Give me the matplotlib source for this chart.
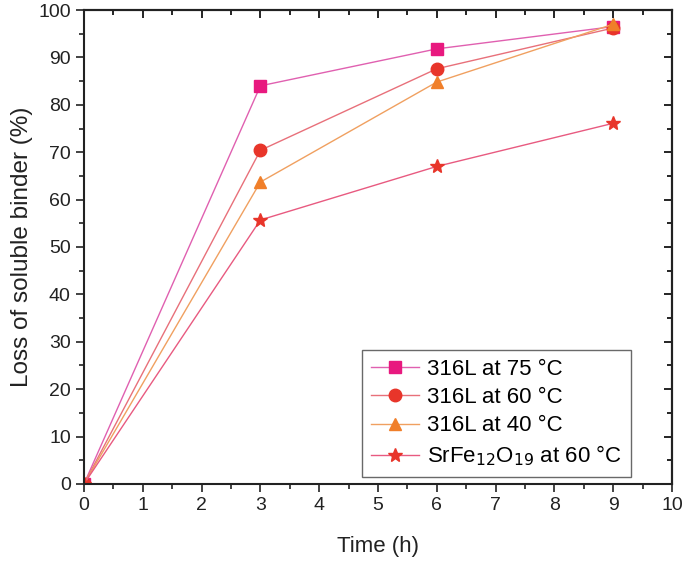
import matplotlib.pyplot as plt
from matplotlib.ticker import MultipleLocator

plt.rcParams["font.family"] = ["Liberation Sans", "DejaVu Sans"]

# Дані
time_h = [0, 3, 6, 9]
loss_316l_75 = [0, 84.0, 91.8, 96.5]
loss_316l_60 = [0, 70.4, 87.6, 96.2]
loss_316l_40 = [0, 63.7, 84.8, 97.0]
loss_srfe_60 = [0, 55.7, 67.0, 76.1]

series = [
    (loss_316l_75, "316L at 75 °C", "s", "#e8197f", "#e060b0", 8),
    (loss_316l_60, "316L at 60 °C", "o", "#e8352a", "#e8707a", 9),
    (loss_316l_40, "316L at 40 °C", "^", "#f07f2a", "#f0a060", 9),
    (loss_srfe_60, "SrFe$_{12}$O$_{19}$ at 60 °C", "*", "#e8352a", "#e85a80", 10),
]

fig = plt.figure(figsize=(6.85, 5.62), dpi=100)
ax = fig.add_axes([0.1226, 0.1388, 0.8584, 0.8434])

for y, label, marker, mcolor, lcolor, ms in series:
    ax.plot(time_h, y, color=lcolor, linewidth=1, marker=marker,
            markersize=ms, markerfacecolor=mcolor, markeredgecolor=mcolor,
            label=label)

ax.set_xlim(0, 10)
ax.set_ylim(0, 100)
ax.xaxis.set_major_locator(MultipleLocator(1))
ax.xaxis.set_minor_locator(MultipleLocator(0.5))
ax.yaxis.set_major_locator(MultipleLocator(10))
ax.yaxis.set_minor_locator(MultipleLocator(5))

for side in ["left", "bottom", "top", "right"]:
    ax.spines[side].set_linewidth(1.5)
    ax.spines[side].set_color("#222222")

ax.tick_params(which="both", direction="out", top=False, right=False,
               labelsize=14, width=1.2, colors="#222222")
ax.tick_params(which="major", length=6)
ax.tick_params(which="minor", length=3.5)

# Внутрішні тики на верхній та правій осях
sec_x = ax.secondary_xaxis("top")
sec_x.xaxis.set_major_locator(MultipleLocator(1))
sec_x.xaxis.set_minor_locator(MultipleLocator(0.5))
sec_x.tick_params(which="both", direction="in", labeltop=False, width=1.2)
sec_x.tick_params(which="major", length=6)
sec_x.tick_params(which="minor", length=3.5)
sec_x.spines["top"].set_linewidth(1.5)
sec_y = ax.secondary_yaxis("right")
sec_y.yaxis.set_major_locator(MultipleLocator(10))
sec_y.yaxis.set_minor_locator(MultipleLocator(5))
sec_y.tick_params(which="both", direction="in", labelright=False, width=1.2)
sec_y.tick_params(which="major", length=6)
sec_y.tick_params(which="minor", length=3.5)
sec_y.spines["right"].set_linewidth(1.5)

ax.set_xlabel("Time (h)", fontsize=16, color="#222222", labelpad=16)
ax.set_ylabel("Loss of soluble binder (%)", fontsize=17.5, color="#222222",
              labelpad=4)

leg = ax.legend(loc="lower right", bbox_to_anchor=(0.93, 0.015), fontsize=16,
                frameon=True, fancybox=False, edgecolor="#444444",
                handlelength=2.2, borderpad=0.4, labelspacing=0.32,
                handletextpad=0.35, borderaxespad=0)
leg.get_frame().set_linewidth(1.0)

plt.savefig("out.png", dpi=100)
